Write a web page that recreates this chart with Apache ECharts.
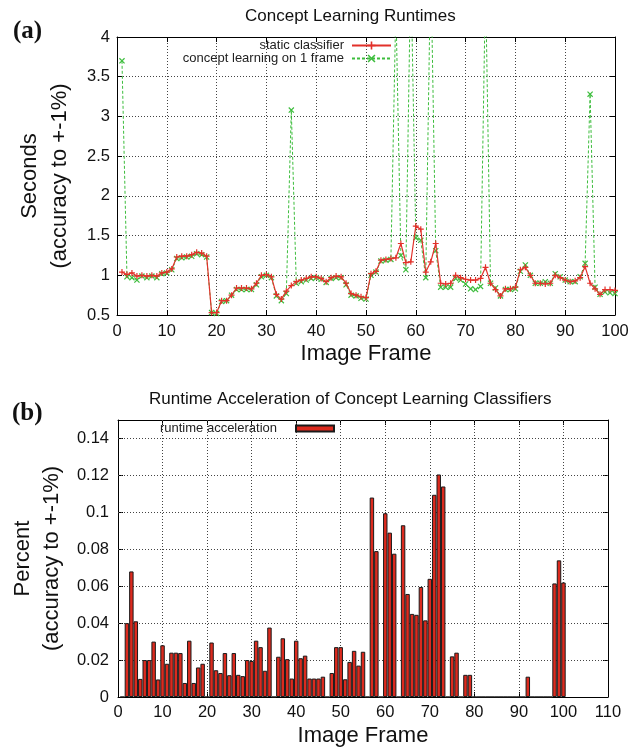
<!DOCTYPE html>
<html>
<head>
<meta charset="utf-8">
<script src="https://cdn.jsdelivr.net/npm/echarts@6/dist/echarts.min.js"></script>
<style>
  html, body { margin: 0; padding: 0; background: #fff; }
  #chart { width: 641px; height: 750px; }
</style>
</head>
<body>
<div id="chart"></div>
<script>
// frame numbers 1..100
const frames = Array.from({ length: 100 }, (_, i) => i + 1)

// (a) runtimes in seconds
const staticRuntime = [
  1.04, 1.01, 1.03, 0.99, 1.00, 0.99, 1.00, 0.99, 1.03, 1.04,
  1.08, 1.23, 1.24, 1.24, 1.26, 1.29, 1.28, 1.24, 0.53, 0.53,
  0.68, 0.68, 0.75, 0.84, 0.84, 0.84, 0.83, 0.90, 1.00, 1.01,
  0.98, 0.76, 0.70, 0.80, 0.87, 0.92, 0.94, 0.96, 0.98, 0.98,
  0.96, 0.92, 0.97, 0.99, 0.98, 0.90, 0.77, 0.75, 0.73, 0.72,
  1.02, 1.05, 1.19, 1.20, 1.21, 1.22, 1.40, 1.16, 1.17, 1.62,
  1.58, 1.04, 1.17, 1.40, 0.90, 0.89, 0.90, 1.00, 0.97, 0.95,
  0.94, 0.94, 0.96, 1.10, 0.90, 0.82, 0.74, 0.83, 0.83, 0.85,
  1.07, 1.10, 1.00, 0.90, 0.90, 0.89, 0.90, 1.00, 0.97, 0.94,
  0.92, 0.93, 0.97, 1.11, 0.90, 0.83, 0.76, 0.82, 0.82, 0.81
]
const conceptRuntime = [
  3.70, 0.98, 0.97, 0.94, 0.99, 0.97, 0.99, 0.97, 1.02, 1.03,
  1.07, 1.21, 1.22, 1.23, 1.24, 1.27, 1.26, 1.23, 0.53, 0.52,
  0.67, 0.68, 0.75, 0.82, 0.82, 0.82, 0.82, 0.88, 0.98, 1.00,
  0.97, 0.74, 0.68, 0.77, 3.08, 0.90, 0.92, 0.94, 0.96, 0.97,
  0.95, 0.91, 0.96, 0.97, 0.97, 0.88, 0.75, 0.74, 0.71, 0.70,
  1.00, 1.04, 1.18, 1.19, 1.20, 4.40, 1.25, 1.07, 4.90, 1.47,
  1.44, 0.97, 5.00, 1.31, 0.85, 0.85, 0.85, 0.96, 0.94, 0.89,
  0.83, 0.82, 0.86, 4.70, 0.90, 0.84, 0.74, 0.82, 0.82, 0.83,
  1.05, 1.13, 1.00, 0.90, 0.90, 0.92, 0.90, 1.02, 0.98, 0.94,
  0.92, 0.92, 0.98, 1.15, 3.28, 0.85, 0.76, 0.79, 0.78, 0.77
]

// (b) runtime acceleration
const acceleration = [
  0, 0.040, 0.068, 0.041, 0.0098, 0.020, 0.020, 0.030, 0.0095, 0.028,
  0.018, 0.024, 0.024, 0.0238, 0.0076, 0.0305, 0.0076, 0.016, 0.018, 0,
  0.0295, 0.0145, 0.013, 0.0238, 0.0118, 0.0238, 0.012, 0.0113, 0.020, 0.0195,
  0.0305, 0.027, 0.0142, 0.0376, 0, 0.0218, 0.0318, 0.0205, 0.010, 0.0305,
  0.021, 0.0224, 0.010, 0.010, 0.010, 0.011, 0, 0.013, 0.027, 0.027,
  0.0096, 0.019, 0.025, 0.017, 0.0245, 0, 0.108, 0.079, 0, 0.0995,
  0.089, 0.0776, 0, 0.093, 0.0558, 0.045, 0.0445, 0.0596, 0.0415, 0.064,
  0.1095, 0.1205, 0.114, 0, 0.022, 0.024, 0, 0.012, 0.012, 0,
  0, 0, 0, 0, 0, 0, 0, 0, 0, 0,
  0, 0.011, 0, 0, 0, 0, 0, 0.0615, 0.074, 0.062
]

// inner tick positions of panel (b), used for its dotted grid
const frameTicksB = [10, 20, 30, 40, 50, 60, 70, 80, 90, 100]
const percentTicks = [0.02, 0.04, 0.06, 0.08, 0.1, 0.12, 0.14]

const FONT = 'Liberation Sans'
const RED = '#e2312a'
const GREEN = '#3dbd3d'
const plusPath = 'path://M4,0H6V10H4Z M0,4H10V6H0Z'
const crossPath = 'path://M0,1.4L1.4,0L10,8.6L8.6,10Z M8.6,0L10,1.4L1.4,10L0,8.6Z'

const pairs = (arr) => arr.map((v, i) => [frames[i], v])

const topRect = { left: 117, right: 26, top: 37, height: 278, outerBoundsMode: 'none' }
const bottomRect = { left: 118, right: 33, top: 420, height: 277, outerBoundsMode: 'none' }
const dotted = { color: '#444', type: [1, 2], width: 1 }

// main axis with labels + dotted grid
const mainAxis = (grid, min, max, interval, extra) => Object.assign({
  type: 'value', gridIndex: grid, min: min, max: max, interval: interval,
  axisLine: { show: true, onZero: false, lineStyle: { color: '#000', width: 1 } },
  axisTick: { show: true, inside: true, length: 5, lineStyle: { color: '#000' } },
  axisLabel: { fontFamily: FONT, fontSize: 16.5, color: '#111' },
  splitLine: { show: true, lineStyle: dotted },
  nameLocation: 'middle',
  nameTextStyle: { fontFamily: FONT, fontSize: 22, color: '#111' }
}, extra)

// mirrored axis in an overlaid grid, so the box gets ticks on all four sides
const mirrorAxis = (grid, min, max, interval, pos) => ({
  type: 'value', gridIndex: grid, min: min, max: max, interval: interval, position: pos,
  axisLine: { show: true, onZero: false, lineStyle: { color: '#000', width: 1 } },
  axisTick: { show: true, inside: true, length: 5, lineStyle: { color: '#000' } },
  axisLabel: { show: false },
  splitLine: { show: false }
})

const chart = echarts.init(document.getElementById('chart'))

const option = {
  animation: false,
  backgroundColor: '#fff',
  title: [
    { text: 'Concept Learning Runtimes', left: 245, top: 8, padding: 0,
      textStyle: { fontFamily: FONT, fontSize: 17, fontWeight: 'normal', color: '#111' } },
    { text: 'Runtime Acceleration of Concept Learning Classifiers', left: 149, top: 391, padding: 0,
      textStyle: { fontFamily: FONT, fontSize: 17, fontWeight: 'normal', color: '#111' } },
    { text: '(a)', left: 13, top: 19, padding: 0,
      textStyle: { fontFamily: 'Liberation Serif', fontSize: 25, fontWeight: 'bold', color: '#111' } },
    { text: '(b)', left: 12, top: 401, padding: 0,
      textStyle: { fontFamily: 'Liberation Serif', fontSize: 25, fontWeight: 'bold', color: '#111' } }
  ],
  legend: [
    {
      data: ['static classifier', 'concept learning on 1 frame'],
      orient: 'vertical', align: 'right', right: 249, top: 39, padding: 0,
      itemWidth: 39, itemHeight: 10, itemGap: 0,
      textStyle: { fontFamily: FONT, fontSize: 13, color: '#222', lineHeight: 12, padding: [0, 3, 0, 0] }
    },
    {
      data: ['runtime acceleration'],
      orient: 'vertical', align: 'right', right: 306, top: 422, padding: 0,
      itemWidth: 38, itemHeight: 6, icon: 'rect',
      textStyle: { fontFamily: FONT, fontSize: 13, color: '#222', lineHeight: 13, padding: [0, 14, 0, 0] }
    }
  ],
  grid: [topRect, bottomRect, topRect, bottomRect],
  xAxis: [
    mainAxis(0, 0, 100, 10, { position: 'bottom', name: 'Image Frame', nameGap: 28,
      axisLabel: { fontFamily: FONT, fontSize: 16.5, color: '#111', margin: 8 } }),
    mainAxis(1, 0, 110, 10, { position: 'bottom', name: 'Image Frame', nameGap: 28,
      axisLabel: { fontFamily: FONT, fontSize: 16.5, color: '#111', margin: 7 } }),
    mirrorAxis(2, 0, 100, 10, 'top'),
    mirrorAxis(3, 0, 110, 10, 'top')
  ],
  yAxis: [
    mainAxis(0, 0.5, 4, 0.5, { position: 'left', name: 'Seconds\n(accuracy to +-1%)', nameGap: 42,
      nameTextStyle: { fontFamily: FONT, fontSize: 22, color: '#111', lineHeight: 30 },
      axisLabel: { fontFamily: FONT, fontSize: 16.5, color: '#111', margin: 7 } }),
    mainAxis(1, 0, 0.15, 0.02, { position: 'left', name: 'Percent\n(accuracy to +-1%)', nameGap: 51,
      nameTextStyle: { fontFamily: FONT, fontSize: 22, color: '#111', lineHeight: 29 },
      axisLabel: { fontFamily: FONT, fontSize: 16.5, color: '#111', margin: 9,
        formatter: (v) => (v > 0.145 ? '' : String(+v.toFixed(2))) } }),
    mirrorAxis(2, 0.5, 4, 0.5, 'right'),
    mirrorAxis(3, 0, 0.15, 0.02, 'right')
  ],
  series: [
    {
      name: 'static classifier', type: 'line', xAxisIndex: 0, yAxisIndex: 0,
      data: pairs(staticRuntime), z: 4,
      symbol: plusPath, symbolSize: 6, showAllSymbol: true,
      itemStyle: { color: RED },
      lineStyle: { color: RED, width: 1.2 }
    },
    {
      name: 'concept learning on 1 frame', type: 'line', xAxisIndex: 0, yAxisIndex: 0,
      data: pairs(conceptRuntime), z: 3,
      symbol: crossPath, symbolSize: 6, showAllSymbol: true,
      itemStyle: { color: GREEN },
      lineStyle: { color: GREEN, width: 1, type: [3, 2] }
    },
    {
      name: 'runtime acceleration', type: 'bar', xAxisIndex: 1, yAxisIndex: 1,
      data: pairs(acceleration), barWidth: 4.45,
      itemStyle: { color: '#dc2a1e', borderColor: '#1a1a1a', borderWidth: 1 },
      // panel (b) grid lines drawn at the tick positions, behind the bars
      markLine: {
        silent: true, symbol: 'none', z: 1, animation: false,
        label: { show: false },
        lineStyle: dotted,
        emphasis: { disabled: true },
        data: frameTicksB.map((v) => ({ xAxis: v })).concat(percentTicks.map((v) => ({ yAxis: v })))
      }
    }
  ]
}

chart.setOption(option)
</script>
</body>
</html>
